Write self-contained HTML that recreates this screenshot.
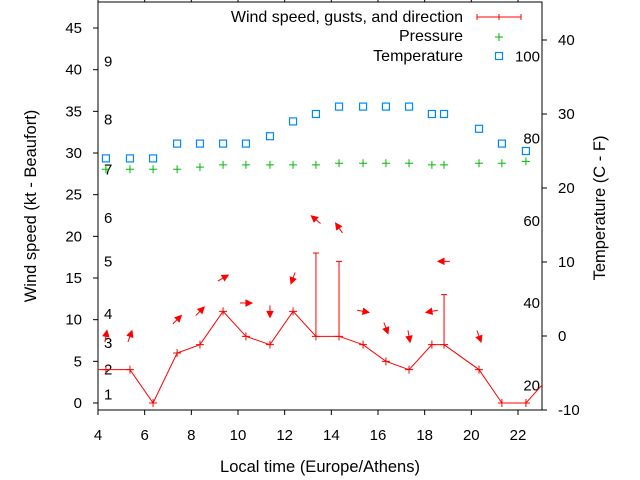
<!DOCTYPE html>
<html><head><meta charset="utf-8"><style>
body{margin:0;background:#fff}
svg{display:block;font-family:"Liberation Sans",sans-serif}
</style></head><body>
<svg id="c" width="640" height="480" viewBox="0 0 640 480" xmlns="http://www.w3.org/2000/svg">
<g id="axes"></g><g id="marks"></g>
</svg>
<script>
const hours=[4.34,5.37,6.36,7.39,8.37,9.36,10.34,11.37,12.36,13.34,14.33,15.36,16.34,17.33,18.31,18.83,20.33,21.31,22.34,23.3];
const windKt=[4,4,0,6,7,11,8,7,11,8,8,7,5,4,7,7,4,0,0,3];
const gustKt=[null,null,null,null,null,null,null,null,null,18,17,null,null,null,null,13,null,null,null,null];
const windDir=[10,20,null,45,45,60,90,180,200,310,325,100,160,170,260,270,160,null,null,null];
const tempHours=[4.34,5.37,6.36,7.39,8.37,9.36,10.34,11.37,12.36,13.34,14.33,15.36,16.34,17.33,18.31,18.83,20.33,21.31,22.34];
const tempC=[24,24,24,26,26,26,26,27,29,30,31,31,31,31,30,30,28,26,25];
const pressure=[28.05,28.05,28.05,28.05,28.3,28.57,28.57,28.57,28.57,28.57,28.77,28.77,28.77,28.77,28.57,28.57,28.77,28.77,29.0];
const xTicks=[4,6,8,10,12,14,16,18,20,22];
const yTicks=[0,5,10,15,20,25,30,35,40,45];
const y2Ticks=[-10,0,10,20,30,40];
const beaufort=[[1,1],[2,4],[3,7.2],[4,10.7],[5,17],[6,22.2],[7,28],[8,34],[9,41]];
const fahr=[20,40,60,80,100];

const L=98,R=542,T=2,B=410;
const xs=h=>L+(h-4)*23.333;
const ys=v=>403-v*8.333;
const ys2=c=>336-c*7.4;
const NS="http://www.w3.org/2000/svg";
const ax=document.getElementById('axes'),mk=document.getElementById('marks');
function el(t,a,p){const e=document.createElementNS(NS,t);for(const k in a)e.setAttribute(k,a[k]);(p||mk).appendChild(e);return e;}
function txt(s,a,p){const e=el('text',a,p);e.textContent=s;return e;}

const frame=el('rect',{x:L,y:T,width:R-L,height:B-T,fill:'none',stroke:'#000','stroke-width':1},ax);


xTicks.forEach(h=>{const x=xs(h);
 const t=el('path',{d:`M${x},${B}v5M${x},${T}v-5`,stroke:'#000'},ax);
 
 
 const l=txt(h,{x:x,y:440,'text-anchor':'middle','font-size':15},ax);
 
 });
yTicks.forEach(v=>{const y=ys(v);
 const t=el('path',{d:`M${L},${y}h-5`,stroke:'#000'},ax);
 
 
 const l=txt(v,{x:82,y:y+5,'text-anchor':'end','font-size':15},ax);
 
 });
y2Ticks.forEach(v=>{const y=ys2(v);
 const t=el('path',{d:`M${R},${y}h5`,stroke:'#000'},ax);
 
 
 const l=txt(v,{x:558,y:y+5,'font-size':15},ax);
 
 });
beaufort.forEach(b=>{const l=txt(b[0],{x:104,y:ys(b[1])+5,'font-size':15},ax);
 
 });
fahr.forEach(f=>{const l=txt(f,{x:540,y:ys2((f-32)*5/9)+5,'text-anchor':'end','font-size':15},ax);
 
 });
let t1=txt('Wind speed (kt - Beaufort)',{transform:'translate(36,206) rotate(-90)','text-anchor':'middle','font-size':16.5},ax);


let t2=txt('Temperature (C - F)',{transform:'translate(605,208) rotate(-90)','text-anchor':'middle','font-size':16.5},ax);


let t3=txt('Local time (Europe/Athens)',{x:320,y:472,'text-anchor':'middle','font-size':16.5},ax);



const defs=el('defs',{});const cp=el('clipPath',{id:'cl'},defs);el('rect',{x:L,y:T,width:R-L,height:B-T},cp);
const g=el('g',{'clip-path':'url(#cl)'});
let d=`M${L},${ys(windKt[0])}`;
hours.forEach((h,i)=>{d+=`L${xs(h)},${ys(windKt[i])}`;});
const wl=el('path',{d:d,fill:'none',stroke:'#f00','stroke-width':1},g);


hours.forEach((h,i)=>{const x=xs(h),y=ys(windKt[i]);
 const p=el('path',{d:`M${x-4},${y}h8M${x},${y-4}v8`,stroke:'#f00'},g);
 
 
 if(gustKt[i]!=null){const gy=ys(gustKt[i]);
  const gb=el('path',{d:`M${x},${y}V${gy}M${x-3},${gy}h6`,stroke:'#f00'},g);
  
  }
 if(windDir[i]!=null){const top=Math.max(windKt[i],gustKt[i]||0)+4;
  const cx=x,cy=ys(top),a=windDir[i]*Math.PI/180,dx=Math.sin(a),dy=-Math.cos(a),len=6;
  const x1=cx-dx*len,y1=cy-dy*len,x2=cx+dx*len,y2=cy+dy*len;
  const px=-dy,py=dx;
  const ar=el('path',{d:`M${x1},${y1}L${x2},${y2}M${x2},${y2}L${x2-dx*6+px*3},${y2-dy*6+py*3}L${x2-dx*6-px*3},${y2-dy*6-py*3}Z`,stroke:'#f00',fill:'#f00','stroke-width':1},g);
  
  }
});
tempHours.forEach((h,i)=>{const x=xs(h),y=ys2(tempC[i]);
 const s=el('rect',{x:x-3.5,y:y-3.5,width:7,height:7,fill:'none',stroke:'#08f','stroke-width':1.2},g);
 
 
 const y3=ys(pressure[i]);
 const p=el('path',{d:`M${x-4},${y3}h8M${x},${y3-4}v8`,stroke:'#0b0'},g);
 
 });

const lg=el('g',{});


[['Wind speed, gusts, and direction',22],['Pressure',41],['Temperature',61]].forEach(r=>{
 const e=txt(r[0],{x:463,y:r[1],'text-anchor':'end','font-size':16},lg);
 
 });
el('path',{d:'M477,17h44M477,14v6M499,14v6M521,14v6',stroke:'#f00'},lg);
el('path',{d:'M495,37h8M499,33v8',stroke:'#0b0'},lg);
el('rect',{x:495.5,y:52.5,width:7,height:7,fill:'none',stroke:'#08f','stroke-width':1.2},lg);
</script>
</body></html>
